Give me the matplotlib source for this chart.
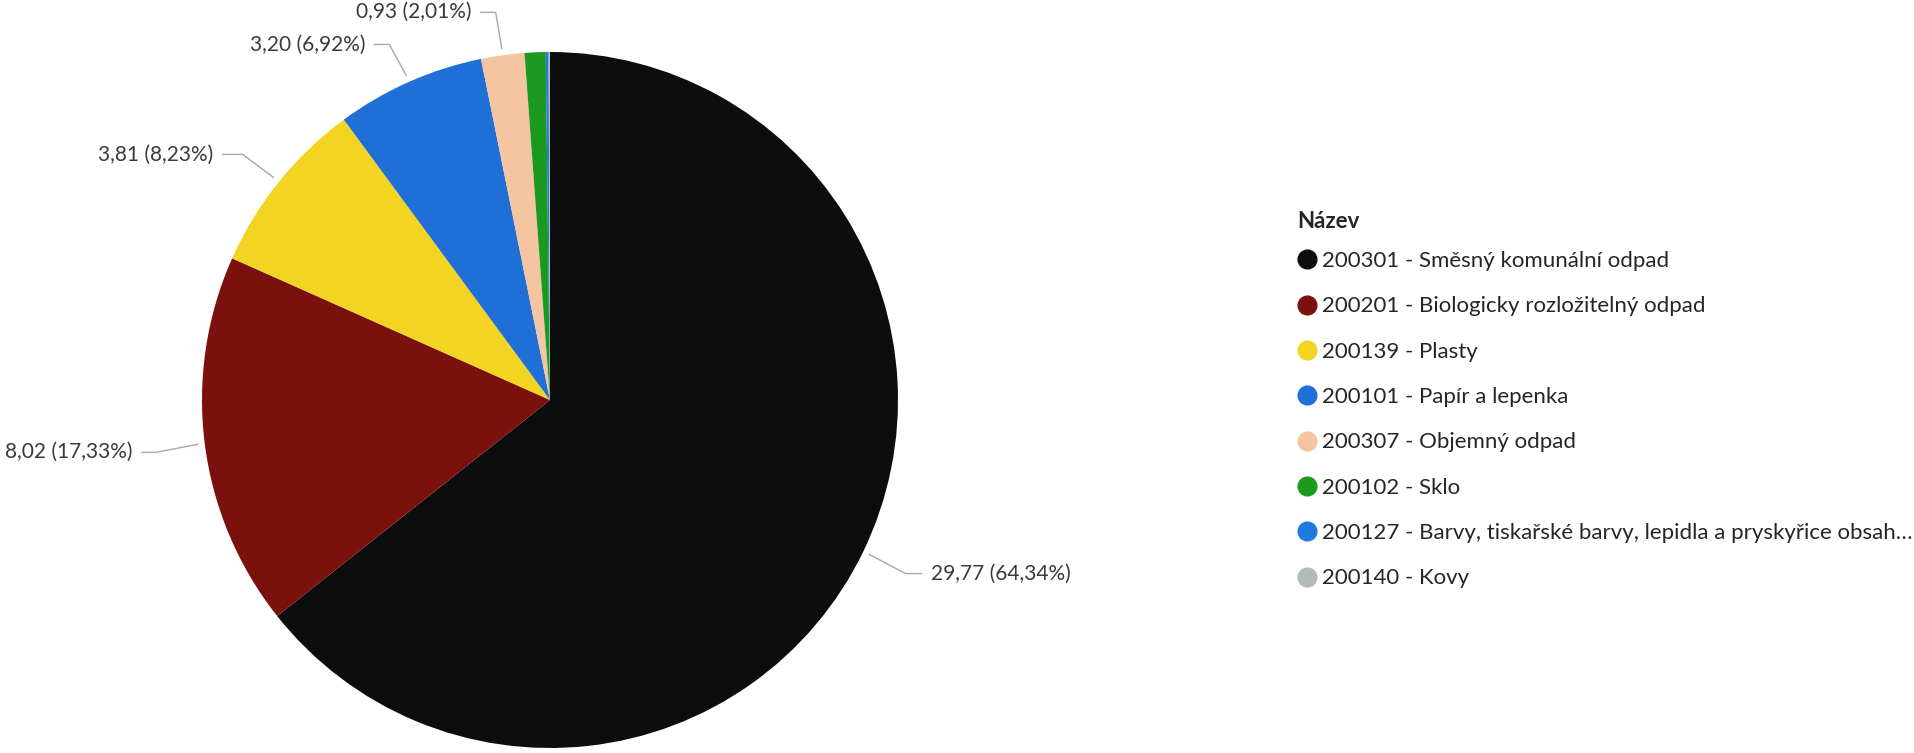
import numpy as np
import matplotlib.pyplot as plt
from matplotlib.lines import Line2D

plt.rcParams['font.family'] = ['Lato', 'DejaVu Sans']

# data (t)
codes = ['200301', '200201', '200139', '200101', '200307', '200102', '200127', '200140']
names = ['Směsný komunální odpad', 'Biologicky rozložitelný odpad', 'Plasty',
         'Papír a lepenka', 'Objemný odpad', 'Sklo',
         'Barvy, tiskařské barvy, lepidla a pryskyřice obsah…', 'Kovy']
values = [29.77, 8.02, 3.81, 3.20, 0.93, 0.45, 0.06, 0.03]
colors = ['#0d0d0d', '#7a110c', '#f4d422', '#1f6fd6', '#f5c4a1', '#1c9a1f', '#1f7ae0', '#b3bbb6']
n_labels = 5  # only the biggest slices get a value label

# leader line: elbow offset and horizontal run in pixels (x right, y down)
leader = [(36, 19, 16), (-42, 8, -14), (-31, -23, -20), (-17, -31, -15), (-6, -36, -15)]

W, H = 1914, 753
fig = plt.figure(figsize=(W / 100, H / 100), dpi=100, facecolor='white')
cx, cy, R = 550, 400, 348
ax = fig.add_axes([(cx - R) / W, (H - cy - R) / H, 2 * R / W, 2 * R / H])
wedges, _ = ax.pie(values, colors=colors, startangle=90, counterclock=False,
                   wedgeprops=dict(linewidth=0))
ax.set_xlim(-1, 1)
ax.set_ylim(-1, 1)
ax.axis('off')

total = sum(values)
px = 1.0 / R
for i in range(n_labels):
    w = wedges[i]
    ang = np.deg2rad((w.theta1 + w.theta2) / 2)
    x0, y0 = 1.02 * np.cos(ang), 1.02 * np.sin(ang)
    ex, ey, run = leader[i]
    x1, y1 = x0 + ex * px, y0 - ey * px
    x2 = x1 + run * px
    ax.plot([x0, x1, x2], [y0, y1, y1], color='#a8a8a8', lw=1.0, clip_on=False)
    pct = values[i] / total * 100
    txt = f'{values[i]:.2f} ({pct:.2f}%)'.replace('.', ',')
    ha = 'left' if run > 0 else 'right'
    ax.text(x2 + np.sign(run) * 9 * px, y1, txt, ha=ha, va='center',
            fontsize=15, color='#3a3a3a', clip_on=False)

# legend (title drawn separately so its gap can be set)
fig.text(1297 / W, 1 - 222 / H, 'Název', fontsize=16, fontweight='bold',
         color='#262626', ha='left', va='center')
handles = [Line2D([], [], marker='o', linestyle='none', markersize=13.5,
                  markerfacecolor=c, markeredgecolor=c) for c in colors]
labels = [f'{c} - {n}' for c, n in zip(codes, names)]
leg = fig.legend(handles, labels, loc='upper left', bbox_to_anchor=(1288 / W, 1 - 240 / H),
                 frameon=False, fontsize=16,
                 handlelength=0.75, handletextpad=0.3, labelspacing=1.14, borderpad=0)
for t in leg.get_texts():
    t.set_color('#262626')

fig.savefig('out.png', dpi=100, facecolor='white')
